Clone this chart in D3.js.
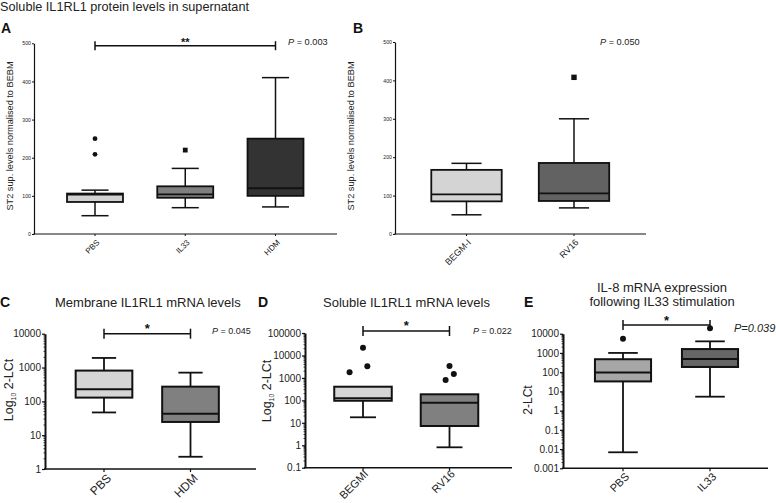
<!DOCTYPE html>
<html><head><meta charset="utf-8">
<script src="https://cdn.jsdelivr.net/npm/d3@7"></script>
<style>body{margin:0;background:#fff;} svg{display:block;}</style>
</head><body><svg id="chart" width="776" height="503"></svg>
<script>
// ---------- DATA ----------
// Panel A
const aCategories = ["PBS", "IL33", "HDM"];
const aLow    = [48, 69, 71];
const aQ1     = [84, 95, 100];
const aMedian = [103, 104, 120];
const aQ3     = [106, 125, 250];
const aHigh   = [115, 172, 410];
const aOutliers = [
  {group: "PBS", value: 250, shape: "circle", dx: 0},
  {group: "PBS", value: 209, shape: "circle", dx: 0},
  {group: "IL33", value: 220, shape: "square", dx: 0}
];
const aTicks = [0, 100, 200, 300, 400, 500];
const aTickLabels = ["0", "100", "200", "300", "400", "500"];

// Panel B
const bCategories = ["BEGM-I", "RV16"];
const bLow    = [50, 68];
const bQ1     = [85, 86];
const bMedian = [103, 106];
const bQ3     = [167, 185];
const bHigh   = [184, 300];
const bOutliers = [{group: "RV16", value: 408, shape: "square", dx: 0}];
const bTicks = [0, 100, 200, 300, 400, 500];
const bTickLabels = ["0", "100", "200", "300", "400", "500"];

// Panel C
const cCategories = ["PBS", "HDM"];
const cLow    = [47, 2.3];
const cQ1     = [129, 24.6];
const cMedian = [228, 43];
const cQ3     = [812, 272];
const cHigh   = [1920, 706];
const cOutliers = [];
const cTicks = [1, 10, 100, 1000, 10000];
const cTickLabels = ["1", "10", "100", "1000", "10000"];

// Panel D
const dCategories = ["BEGMI", "RV16"];
const dLow    = [17.6, 0.81];
const dQ1     = [96, 7.2];
const dMedian = [123, 78];
const dQ3     = [405, 186];
const dHigh   = [405, 186];
const dOutliers = [
  {group: "BEGMI", value: 22000, shape: "circle", dx: 0},
  {group: "BEGMI", value: 3300, shape: "circle", dx: 0.05},
  {group: "BEGMI", value: 1780, shape: "circle", dx: -0.155},
  {group: "RV16", value: 3400, shape: "circle", dx: 0},
  {group: "RV16", value: 1500, shape: "circle", dx: 0.05},
  {group: "RV16", value: 800, shape: "circle", dx: -0.045}
];
const dTicks = [0.1, 1, 10, 100, 1000, 10000, 100000];
const dTickLabels = ["0.1", "1", "10", "100", "1000", "10000", "100000"];

// Panel E
const eCategories = ["PBS", "IL33"];
const eLow    = [0.0068, 5.3];
const eQ1     = [33, 186];
const eMedian = [95, 480];
const eQ3     = [470, 1590];
const eHigh   = [1000, 4000];
const eOutliers = [
  {group: "PBS", value: 5500, shape: "circle", dx: 0},
  {group: "IL33", value: 19000, shape: "circle", dx: 0}
];
const eTicks = [0.001, 0.01, 0.1, 1, 10, 100, 1000, 10000];
const eTickLabels = ["0.001", "0.01", "0.1", "1", "10", "100", "1000", "10000"];

// ---------- DRAWING ----------
const FONT = "'Liberation Sans', Arial, Helvetica, sans-serif";
const svg = d3.select("#chart").attr("font-family", FONT);
const INK = "#111";

function drawPanel(p) {
  const g = svg.append("g");
  const x = d3.scalePoint().domain(p.categories).range(p.centers);
  const step = x.step();
  const y = (p.log ? d3.scaleLog() : d3.scaleLinear()).domain(p.domain).range([p.bottom, p.top]);

  // minor ticks for log axes
  if (p.log) {
    const minors = [];
    p.ticks.forEach(t => { for (let k = 2; k < 10; k++) { const v = t * k; if (v < p.domain[1]) minors.push(v); } });
    g.selectAll("line.minor").data(minors).join("line").attr("class", "minor")
      .attr("x1", p.left).attr("x2", p.left - p.minorLen)
      .attr("y1", d => y(d)).attr("y2", d => y(d))
      .attr("stroke", INK).attr("stroke-width", 0.8);
  }

  // y axis
  const ya = g.append("g").attr("transform", `translate(${p.left},0)`)
    .call(d3.axisLeft(y).tickValues(p.ticks).tickFormat((d, i) => p.tickLabels[i])
      .tickSize(p.tickLen).tickPadding(p.tickPad).tickSizeOuter(0))
    .attr("font-family", FONT).attr("font-size", p.tickFont);
  ya.select(".domain").attr("stroke", INK).attr("stroke-width", p.yAxisW);
  ya.selectAll(".tick line").attr("stroke", INK).attr("stroke-width", p.tickW);
  ya.selectAll(".tick text").attr("fill", "#222");

  // x axis line + ticks
  g.append("line").attr("x1", p.left - p.yAxisW / 2).attr("x2", p.right)
    .attr("y1", p.bottom).attr("y2", p.bottom).attr("stroke", INK).attr("stroke-width", p.xAxisW);
  g.selectAll("line.xt").data(p.categories).join("line").attr("class", "xt")
    .attr("x1", d => x(d)).attr("x2", d => x(d))
    .attr("y1", p.bottom).attr("y2", p.bottom + p.xTickLen)
    .attr("stroke", INK).attr("stroke-width", p.tickW);
  g.selectAll("text.xl").data(p.categories).join("text").attr("class", "xl")
    .attr("transform", d => `translate(${x(d) + p.xLabDx},${p.bottom + p.xLabDy}) rotate(-45)`)
    .attr("text-anchor", "end").attr("font-size", p.xFont).attr("fill", "#222").text(d => d);

  // boxes
  const rows = p.categories.map((c, i) => ({c, low: p.low[i], q1: p.q1[i], med: p.median[i], q3: p.q3[i], high: p.high[i], fill: p.fills[i]}));
  const bw = step * p.boxFrac, cw = step * p.capFrac;
  rows.forEach(r => {
    const cx = x(r.c);
    const wg = g.append("g").attr("stroke", INK).attr("stroke-width", p.whiskerW).attr("fill", "none");
    if (r.low < r.q1) {
      wg.append("line").attr("x1", cx).attr("x2", cx).attr("y1", y(r.q1)).attr("y2", y(r.low));
      wg.append("line").attr("x1", cx - cw / 2).attr("x2", cx + cw / 2).attr("y1", y(r.low)).attr("y2", y(r.low));
    }
    if (r.high > r.q3) {
      wg.append("line").attr("x1", cx).attr("x2", cx).attr("y1", y(r.q3)).attr("y2", y(r.high));
      wg.append("line").attr("x1", cx - cw / 2).attr("x2", cx + cw / 2).attr("y1", y(r.high)).attr("y2", y(r.high));
    }
    g.append("rect").attr("x", cx - bw / 2).attr("y", y(r.q3))
      .attr("width", bw).attr("height", y(r.q1) - y(r.q3))
      .attr("fill", r.fill).attr("stroke", INK).attr("stroke-width", p.boxW);
    g.append("line").attr("x1", cx - bw / 2).attr("x2", cx + bw / 2)
      .attr("y1", y(r.med)).attr("y2", y(r.med)).attr("stroke", INK).attr("stroke-width", p.boxW);
  });

  // outliers
  p.outliers.forEach(o => {
    const ox = x(o.group) + o.dx * step, oy = y(o.value);
    if (o.shape === "square") {
      g.append("rect").attr("x", ox - p.ptR).attr("y", oy - p.ptR)
        .attr("width", p.ptR * 2).attr("height", p.ptR * 2).attr("fill", INK);
    } else {
      g.append("circle").attr("cx", ox).attr("cy", oy).attr("r", p.ptR).attr("fill", INK);
    }
  });

  // significance bracket
  if (p.sig) {
    const s = p.sig, x1 = x(s.from), x2 = x(s.to);
    const bg = g.append("g").attr("stroke", INK).attr("stroke-width", 1.5);
    bg.append("line").attr("x1", x1).attr("x2", x2).attr("y1", s.y).attr("y2", s.y);
    bg.append("line").attr("x1", x1).attr("x2", x1).attr("y1", s.y - s.cap).attr("y2", s.y + s.cap);
    bg.append("line").attr("x1", x2).attr("x2", x2).attr("y1", s.y - s.cap).attr("y2", s.y + s.cap);
    g.append("text").attr("x", (x1 + x2) / 2).attr("y", s.starY).attr("text-anchor", "middle")
      .attr("font-size", s.starFont).attr("font-weight", "bold").attr("fill", INK).text(s.stars);
  }

  // P value
  const pt = g.append("text").attr("x", p.pText.x).attr("y", p.pText.y)
    .attr("font-size", p.pText.size).attr("fill", "#222");
  if (p.pText.allItalic) {
    pt.attr("font-style", "italic").text(p.pText.text);
  } else {
    pt.append("tspan").attr("font-style", "italic").text("P");
    pt.append("tspan").text(p.pText.text);
  }

  // y label
  const yl = g.append("text").attr("transform", `translate(${p.yLab.x},${p.yLab.y}) rotate(-90)`)
    .attr("text-anchor", "middle").attr("font-size", p.yLab.size).attr("fill", "#222");
  if (p.yLab.sub) {
    yl.append("tspan").text(p.yLab.pre);
    yl.append("tspan").attr("font-size", p.yLab.size * 0.55).attr("dy", 3).text(p.yLab.sub);
    yl.append("tspan").attr("dy", -3).text(p.yLab.post);
  } else {
    yl.text(p.yLab.text);
  }
}

// figure titles and panel letters
svg.append("text").attr("x", 0).attr("y", 11).attr("font-size", 12.7).attr("fill", "#222")
  .text("Soluble IL1RL1 protein levels in supernatant");
const letters = [
  {t: "A", x: 1, y: 33}, {t: "B", x: 353, y: 33},
  {t: "C", x: 0, y: 307}, {t: "D", x: 258, y: 307}, {t: "E", x: 524, y: 307}
];
svg.selectAll("text.letter").data(letters).join("text").attr("class", "letter")
  .attr("x", d => d.x).attr("y", d => d.y).attr("font-size", 14).attr("font-weight", "bold")
  .attr("fill", "#111").text(d => d.t);
svg.append("text").attr("x", 55).attr("y", 307).attr("font-size", 13).attr("fill", "#222").text("Membrane IL1RL1 mRNA levels");
svg.append("text").attr("x", 323).attr("y", 307).attr("font-size", 13).attr("fill", "#222").text("Soluble IL1RL1 mRNA levels");
svg.append("text").attr("x", 662).attr("y", 292).attr("font-size", 13).attr("text-anchor", "middle").attr("fill", "#222").text("IL-8 mRNA expression");
svg.append("text").attr("x", 662).attr("y", 306).attr("font-size", 13).attr("text-anchor", "middle").attr("fill", "#222").text("following IL33 stimulation");

const st2Label = "ST2 sup. levels normalised to BEBM";

drawPanel({
  categories: aCategories, low: aLow, q1: aQ1, median: aMedian, q3: aQ3, high: aHigh, outliers: aOutliers,
  ticks: aTicks, tickLabels: aTickLabels, log: false, domain: [0, 500],
  left: 34, right: 337, centers: [95, 275.5], top: 43.3, bottom: 234,
  fills: ["#d2d2d2", "#808080", "#333333"],
  tickFont: 5.2, tickLen: 2, tickPad: 1, tickW: 1, yAxisW: 1.2, xAxisW: 1.2, minorLen: 0,
  xTickLen: 2, xLabDx: 5, xLabDy: 9, xFont: 8,
  boxFrac: 0.62, capFrac: 0.3, whiskerW: 1.5, boxW: 1.8, ptR: 2.4,
  sig: {from: "PBS", to: "HDM", y: 45.7, cap: 4.5, stars: "**", starY: 45.5, starFont: 11},
  pText: {x: 288, y: 45, size: 9.2, text: " = 0.003"},
  yLab: {x: 13, y: 136, size: 9.2, text: st2Label}
});

drawPanel({
  categories: bCategories, low: bLow, q1: bQ1, median: bMedian, q3: bQ3, high: bHigh, outliers: bOutliers,
  ticks: bTicks, tickLabels: bTickLabels, log: false, domain: [0, 500],
  left: 395, right: 646, centers: [466.5, 574], top: 42, bottom: 234,
  fills: ["#d4d4d4", "#626262"],
  tickFont: 5.2, tickLen: 2, tickPad: 1, tickW: 1, yAxisW: 1.2, xAxisW: 1.2, minorLen: 0,
  xTickLen: 2, xLabDx: 5, xLabDy: 9, xFont: 9,
  boxFrac: 0.655, capFrac: 0.28, whiskerW: 1.5, boxW: 1.8, ptR: 2.7,
  sig: null,
  pText: {x: 600, y: 45, size: 9.2, text: " = 0.050"},
  yLab: {x: 354, y: 136, size: 9.2, text: st2Label}
});

drawPanel({
  categories: cCategories, low: cLow, q1: cQ1, median: cMedian, q3: cQ3, high: cHigh, outliers: cOutliers,
  ticks: cTicks, tickLabels: cTickLabels, log: true, domain: [1, 10000],
  left: 45, right: 256, centers: [104, 190.5], top: 333.7, bottom: 469,
  fills: ["#d5d5d5", "#808080"],
  tickFont: 10, tickLen: 3, tickPad: 1, tickW: 1.2, yAxisW: 2, xAxisW: 1.5, minorLen: 1.5,
  xTickLen: 3, xLabDx: 8, xLabDy: 10, xFont: 12,
  boxFrac: 0.655, capFrac: 0.28, whiskerW: 1.8, boxW: 2, ptR: 3,
  sig: {from: "PBS", to: "HDM", y: 333.7, cap: 5, stars: "*", starY: 333, starFont: 13},
  pText: {x: 212, y: 333.5, size: 9, text: " = 0.045"},
  yLab: {x: 12.5, y: 390, size: 12.5, pre: "Log", sub: "10", post: " 2-LCt"}
});

drawPanel({
  categories: dCategories, low: dLow, q1: dQ1, median: dMedian, q3: dQ3, high: dHigh, outliers: dOutliers,
  ticks: dTicks, tickLabels: dTickLabels, log: true, domain: [0.1, 100000],
  left: 305, right: 512, centers: [363, 449.5], top: 333, bottom: 467.7,
  fills: ["#d5d5d5", "#808080"],
  tickFont: 10, tickLen: 3, tickPad: 1, tickW: 1.2, yAxisW: 2, xAxisW: 1.5, minorLen: 1.5,
  xTickLen: 3, xLabDx: 6, xLabDy: 7, xFont: 11,
  boxFrac: 0.665, capFrac: 0.3, whiskerW: 1.8, boxW: 2, ptR: 3,
  sig: {from: "BEGMI", to: "RV16", y: 331, cap: 5, stars: "*", starY: 330, starFont: 13},
  pText: {x: 473, y: 333.5, size: 9, text: " = 0.022"},
  yLab: {x: 271, y: 391, size: 12.5, pre: "Log", sub: "10", post: " 2-LCt"}
});

drawPanel({
  categories: eCategories, low: eLow, q1: eQ1, median: eMedian, q3: eQ3, high: eHigh, outliers: eOutliers,
  ticks: eTicks, tickLabels: eTickLabels, log: true, domain: [0.001, 10000],
  left: 563, right: 768, centers: [623, 710], top: 333.7, bottom: 468.3,
  fills: ["#a6a6a6", "#666666"],
  tickFont: 10, tickLen: 3, tickPad: 1, tickW: 1.2, yAxisW: 2, xAxisW: 1.5, minorLen: 1.5,
  xTickLen: 3, xLabDx: 7, xLabDy: 9, xFont: 11,
  boxFrac: 0.645, capFrac: 0.34, whiskerW: 1.8, boxW: 2, ptR: 3,
  sig: {from: "PBS", to: "IL33", y: 325, cap: 5, stars: "*", starY: 325, starFont: 13},
  pText: {x: 734, y: 331.5, size: 11, text: "P=0.039", allItalic: true},
  yLab: {x: 532, y: 400, size: 12, text: "2-LCt"}
});
</script>
</body></html>
